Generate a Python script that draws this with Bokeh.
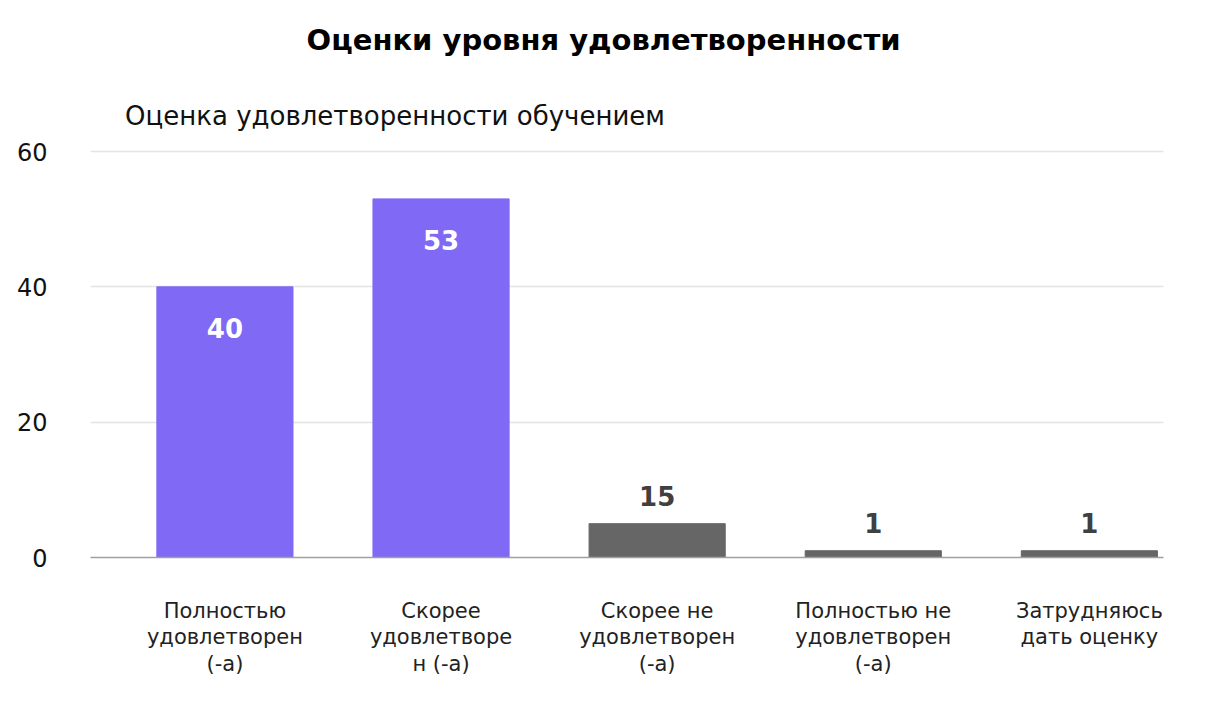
from bokeh.plotting import figure
from bokeh.models import Range1d, FixedTicker, ColumnDataSource
from bokeh.core.properties import value
from bokeh.embed import file_html
from bokeh.resources import INLINE

# ---- data ----
categories = [
    "Полностью\nудовлетворен\n(-а)",
    "Скорее\nудовлетворе\nн (-а)",
    "Скорее не\nудовлетворен\n(-а)",
    "Полностью не\nудовлетворен\n(-а)",
    "Затрудняюсь\nдать оценку",
]
bar_heights = [40, 53, 5, 1, 1]
value_labels = ["40", "53", "15", "1", "1"]
satisfied = [True, True, False, False, False]
y_ticks = [0, 20, 40, 60]
title_text = "Оценки уровня удовлетворенности"
subtitle_text = "Оценка удовлетворенности обучением"

FONT = "DejaVu Sans"
PURPLE = "#8069F5"
GREY = "#666666"

xs = list(range(len(categories)))
src = ColumnDataSource(dict(
    x=xs,
    top=bar_heights,
    lab=value_labels,
    color=[PURPLE if s else GREY for s in satisfied],
    tcolor=["white" if s else "#404040" for s in satisfied],
    yoff=[41 if s else -28 for s in satisfied],
))

p = figure(width=1206, height=706, output_backend="svg", toolbar_location=None,
           x_range=Range1d(-0.622, 4.343), y_range=Range1d(0, 80.84),
           min_border_left=90, min_border_right=43, min_border_top=10,
           min_border_bottom=149)
p.outline_line_color = None
p.background_fill_color = "white"
p.border_fill_color = "white"

p.vbar(x="x", top="top", width=0.63, bottom=0, color="color", source=src)

p.text(x="x", y="top", text="lab", source=src, y_offset="yoff",
       text_align="center", text_baseline="middle",
       text_color="tcolor", text_font=value(FONT), text_font_style="bold",
       text_font_size="26px")

# title & subtitle as text glyphs placed above the plotted range
p.text(x=[1.752], y=[76.5], text=[title_text], text_align="center",
       text_baseline="middle", text_font=value(FONT), text_font_style="bold",
       text_font_size="29px", text_color="black")
p.text(x=[-0.462], y=[65.25], text=[subtitle_text], text_align="left",
       text_baseline="middle", text_font=value(FONT),
       text_font_size="26px", text_color="#111111")

# axes
p.yaxis.ticker = FixedTicker(ticks=y_ticks)
p.yaxis.axis_line_color = None
p.yaxis.major_tick_line_color = None
p.yaxis.minor_tick_line_color = None
p.yaxis.major_label_standoff = 37
p.yaxis.major_label_text_font = FONT
p.yaxis.major_label_text_font_size = "24px"
p.yaxis.major_label_text_color = "#111111"

p.xaxis.ticker = FixedTicker(ticks=xs)
p.xaxis.major_label_overrides = {i: c for i, c in zip(xs, categories)}
p.xaxis.axis_line_color = "#a0a0a0"
p.xaxis.axis_line_width = 1.5
p.xaxis.major_tick_line_color = None
p.xaxis.minor_tick_line_color = None
p.xaxis.major_label_standoff = 35
p.xaxis.major_label_text_font = FONT
p.xaxis.major_label_text_font_size = "21px"
p.xaxis.major_label_text_color = "#222222"
p.xaxis.major_label_text_line_height = 1.12

p.xgrid.grid_line_color = None
p.ygrid.ticker = FixedTicker(ticks=y_ticks)
p.ygrid.grid_line_color = "#e3e3e3"
p.ygrid.grid_line_width = 1.5

open("out.html", "w").write(file_html(p, INLINE))
